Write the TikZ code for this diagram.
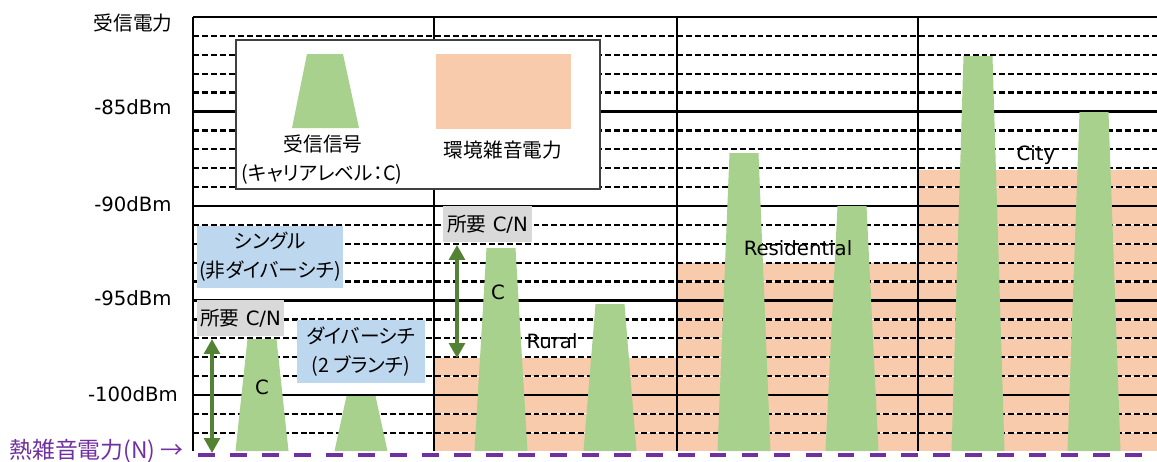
\documentclass[tikz,border=0pt]{standalone}
\usepackage{fontspec}
\setmainfont{DejaVu Sans}
\newfontfamily\jpfont{Noto Sans CJK JP}[RawFeature=+palt]
\usetikzlibrary{arrows.meta}

\definecolor{sigGreen}{RGB}{169,209,142}
\definecolor{noiseOrange}{RGB}{247,203,172}
\definecolor{boxBlue}{RGB}{189,215,238}
\definecolor{boxGray}{RGB}{217,217,217}
\definecolor{arrowGreen}{RGB}{84,130,53}
\definecolor{thermPurple}{RGB}{112,48,160}

\tikzset{
	gridsolid/.style={line width=1.3pt},
	griddash/.style={line width=1.3pt,dash pattern=on 3.4pt off 1.7pt},
	gridgap/.style={white,line width=0.6pt},
	sig/.style={fill=sigGreen},
	noise/.style={fill=noiseOrange},
	legendbox/.style={draw=black!75,line width=0.9pt,fill=white},
	bluebox/.style={fill=boxBlue,inner sep=0pt,align=center,font=\jpfont\fontsize{11.2}{16.5}\selectfont},
	graybox/.style={fill=boxGray,inner sep=0pt},
	thermal/.style={thermPurple,line width=2.8pt,dash pattern=on 9.6pt off 8.6pt},
	cnarrow/.style={arrowGreen,line width=1.8pt,{Triangle[length=8.5pt,width=9pt]}-{Triangle[length=8.5pt,width=9pt]}}
}

\begin{document}
\begin{tikzpicture}[font=\fontsize{11.2}{13}\selectfont]
	\begin{scope}[x=0.02cm,y=-0.02cm]
		\useasboundingbox (0,0) rectangle (1157,461);

		\fill[noise] (434,358) rectangle (677,451); % rural
		\fill[noise] (677,263) rectangle (918,451); % residential
		\fill[noise] (918,170) rectangle (1157,451); % city

		\foreach \k in {1,2,3,4,6,7,8,9,11,12,13,14,16,17,18,19,21,22} {
			\draw[gridgap] (193,17+\k*18.9) -- (1157,17+\k*18.9);
			\draw[griddash] (193,17+\k*18.9) -- (1157,17+\k*18.9);
		} % 1 dB steps
		\foreach \k in {0,5,10,15,20}
			\draw[gridsolid] (193,17+\k*18.9) -- (1157,17+\k*18.9); % 5 dB steps
		\foreach \x in {193,434,677,918}
			\draw[gridsolid] (\x,17) -- (\x,451); % columns

		\foreach \cx/\ty in {262/339,361/396,501/248,610/304,744/153,852/206,978/56,1094/112}
			\fill[sig] (\cx-26.5,451) -- (\cx+26.5,451) -- (\cx+14.5,\ty) -- (\cx-14.5,\ty) -- cycle; % carriers

		\draw[legendbox] (236,40) rectangle (600,189); % legend
		\fill[sig] (292,128) -- (359,128) -- (343,54) -- (307,54) -- cycle;
		\fill[noise] (436,54) rectangle (571,129);
		\node (legSig) at (323,144) {\jpfont 受信信号};
		\node (legCarrier) at (322,174) {\jpfont (キャリアレベル：C)};
		\node (legNoise) at (503,150) {\jpfont 環境雑音電力};

		\node (yTitle) at (133,23) {\jpfont 受信電力};
		\node (y85) at (133,107) {-85dBm};
		\node (y90) at (133,204) {-90dBm};
		\node (y95) at (133,298) {-95dBm};
		\node (y100) at (133,394) {-100dBm};

		\node[bluebox,minimum width=2.92cm,minimum height=1.24cm] (single) at (270,257) {シングル\\(非ダイバーシチ)};
		\node[bluebox,minimum width=2.56cm,minimum height=1.26cm] (diversity) at (361,351.5) {ダイバーシチ\\(2 ブランチ)};
		\node[graybox,minimum width=1.74cm,minimum height=0.72cm] (reqLeft) at (240.5,318) {{\jpfont 所要} C/N};
		\node[graybox,minimum width=1.78cm,minimum height=0.72cm] (reqRural) at (487.5,224) {{\jpfont 所要} C/N};

		\node (cLeft) at (262,387) {C};
		\node (cRural) at (498,292) {C};
		\node (rural) at (552,341) {Rural};
		\node (resid) at (798,248) {Residential};
		\node (city) at (1036,155) {City};

		\coordinate (nStart) at (198,455);
		\coordinate (nEnd) at (1157,455);
		\draw[thermal] (nStart) -- (nEnd); % thermal noise
		\node[text=thermPurple,anchor=west,inner sep=0pt,font=\fontsize{13}{15}\selectfont] (thermLbl) at (9,451) {\jpfont 熱雑音電力(N)~→};

		\coordinate (cnLeftTop) at (212,339);
		\coordinate (cnLeftBot) at (212,453);
		\draw[cnarrow] (cnLeftTop) -- (cnLeftBot); % required C/N, single
		\coordinate (cnRuralTop) at (457,245);
		\coordinate (cnRuralBot) at (457,358);
		\draw[cnarrow] (cnRuralTop) -- (cnRuralBot); % required C/N, rural
	\end{scope}
\end{tikzpicture}
\end{document}
